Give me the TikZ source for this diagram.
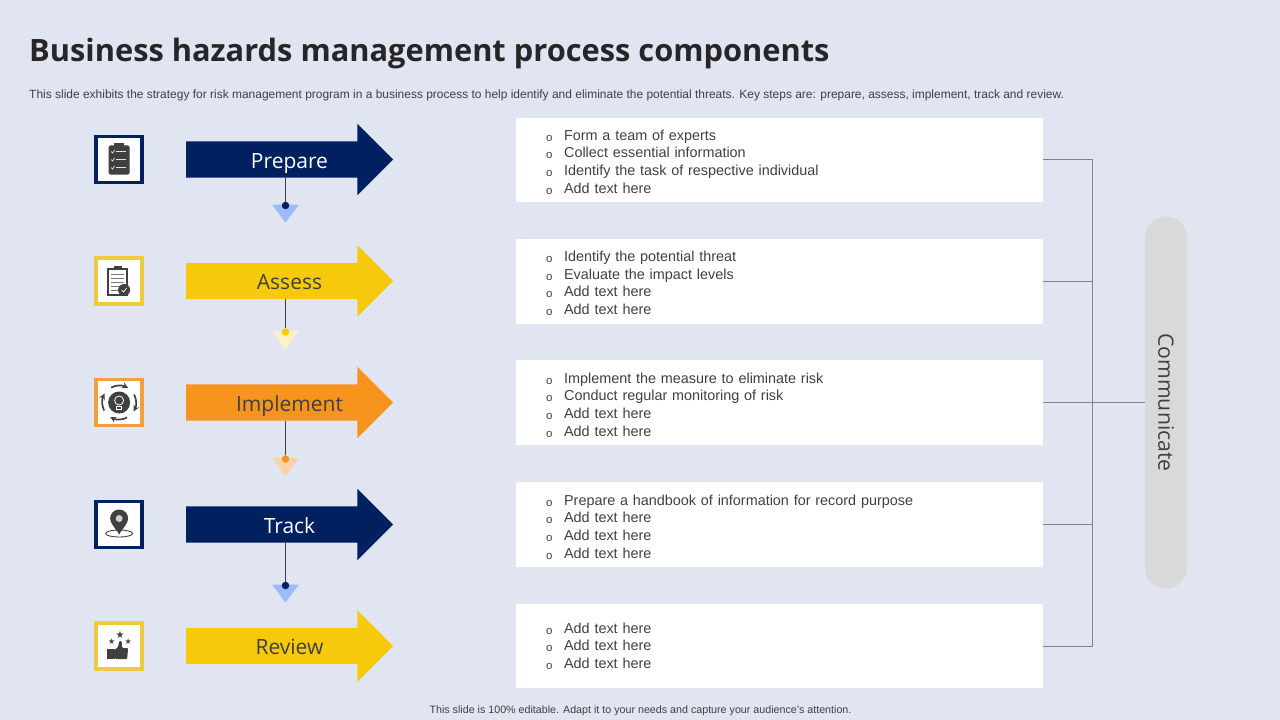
\documentclass[tikz,border=0pt]{standalone}
\usepackage{fontspec}
\setmainfont{Liberation Sans}
\newfontfamily\headfont{Open Sans}
\newfontfamily\symfont{DejaVu Sans}
\usepackage{xcolor}
\usetikzlibrary{shapes, arrows, positioning, calc}

\definecolor{slidebg}{HTML}{E1E5F2}
\definecolor{navy}{HTML}{002060}
\definecolor{sun}{HTML}{F6C90B}
\definecolor{sunframe}{HTML}{EFCB3F}
\definecolor{tangerine}{HTML}{F7941D}
\definecolor{orangeframe}{HTML}{F0A03C}
\definecolor{ink}{HTML}{404040}
\definecolor{busgray}{HTML}{7F8090}
\definecolor{skytip}{HTML}{9DBBF7}
\definecolor{suntip}{HTML}{FDF1C4}
\definecolor{orangetip}{HTML}{FBD3A6}

\newcommand{\itm}[1]{\hspace*{30pt}\makebox[18pt][l]{\raisebox{-1pt}{\fontsize{11.5}{11}\selectfont o}}#1}
\newcommand{\topitm}[1]{\rule{0pt}{15.5pt}\itm{#1}}
\newcommand{\stagetext}[1]{\hspace*{18pt}#1}
\newcommand{\droptip}[2]{\fill[#2] (#1) ++(-13.5,-1) -- ++(27,0) -- ++(-13.5,18) -- cycle;}

\begin{document}
\begin{tikzpicture}[
            x=1pt, y=-1pt,
            stage/.style={single arrow, draw=none, shape border rotate=0, minimum height=207pt,
                single arrow head extend=17.5pt, inner xsep=0pt, inner ysep=0pt,
                text height=26.5pt, text depth=9.5pt, text=ink, font=\headfont\fontsize{21}{21}\selectfont},
            frame/.style={rectangle, draw=#1, line width=3.5pt, fill=white, minimum size=46pt, inner sep=0pt},
            listbox/.style={rectangle, fill=white, text width=527pt, inner sep=0pt, minimum height=85pt,
                align=left, text=ink, font=\fontsize{14.4}{17.6}\selectfont},
            stem/.style={ink, line width=0.8pt},
            bus/.style={busgray, line width=0.8pt},
            dot/.style={circle, fill=#1, inner sep=0pt, minimum size=7.5pt},
            star/.style={text=ink, inner sep=0pt, font=\symfont\fontsize{#1}{#1}\selectfont},
            glyph/.style={fill=ink, draw=none},
            ring/.style={ink, line width=1.7pt, -stealth}
        ]
        \fill[slidebg] (0,0) rectangle (1280,720);
        \useasboundingbox (0,0) rectangle (1280,720);

        % Heading
        \node[anchor=west, inner sep=0pt, text=black!85, font=\headfont\bfseries\fontsize{30.8}{31}\selectfont] (title) at (29,53) {Business hazards management process components};
        \node[anchor=west, inner sep=0pt, text=ink, font=\fontsize{11.97}{12}\selectfont] (subtitle) at (29,95) {This slide exhibits the strategy for risk management program in a business process to help identify and eliminate the potential threats. Key steps are: prepare, assess, implement, track and review.};

        % Stages
        \node[stage, fill=navy, text=white] (prepare) at (280.5,159.5) {\stagetext{Prepare}};
        \node[stage, fill=sun] (assess) at (280.5,281) {\stagetext{Assess}};
        \node[stage, fill=tangerine] (implement) at (280.5,402.5) {\stagetext{Implement}};
        \node[stage, fill=navy, text=white] (track) at (280.5,524.5) {\stagetext{Track}};
        \node[stage, fill=sun] (review) at (280.5,646) {\stagetext{Review}};

        % Icon frames
        \node[frame=navy, left=42pt of prepare] (frameprepare) {};
        \node[frame=sunframe, left=42pt of assess] (frameassess) {};
        \node[frame=orangeframe, left=42pt of implement] (frameimplement) {};
        \node[frame=navy, left=42pt of track] (frametrack) {};
        \node[frame=sunframe, left=42pt of review] (framereview) {};

        % Icons
        \fill[glyph, rounded corners=1.5pt] ($(frameprepare)+(-10.5,-14)$) rectangle ($(frameprepare)+(10.5,15)$);
        \fill[glyph] ($(frameprepare)+(-5,-16)$) rectangle ($(frameprepare)+(5,-12)$);
        \draw[white!85!ink, line width=0.8pt] ($(frameprepare)+(-3,-8)$) -- ++(10,0) ($(frameprepare)+(-3,0)$) -- ++(10,0) ($(frameprepare)+(-3,8)$) -- ++(10,0);
        \draw[white!85!ink, line width=0.7pt] ($(frameprepare)+(-8,-8)$) -- ++(1.5,1.5) -- ++(2,-3) ($(frameprepare)+(-8,0)$) -- ++(1.5,1.5) -- ++(2,-3) ($(frameprepare)+(-8,8)$) -- ++(1.5,1.5) -- ++(2,-3);

        \draw[ink, line width=1.5pt, fill=white] ($(frameassess)+(-11,-12)$) rectangle ($(frameassess)+(8,14)$);
        \fill[glyph] ($(frameassess)+(-5,-15)$) rectangle ($(frameassess)+(3,-11)$);
        \draw[ink!70, line width=1pt] ($(frameassess)+(-8,-7)$) -- ++(13,0) ($(frameassess)+(-8,-3)$) -- ++(13,0) ($(frameassess)+(-8,1)$) -- ++(13,0) ($(frameassess)+(-8,5)$) -- ++(10,0) ($(frameassess)+(-8,9)$) -- ++(8,0);
        \fill[glyph] ($(frameassess)+(5,9)$) circle (6pt);
        \draw[white, line width=0.7pt] ($(frameassess)+(2.5,9)$) -- ++(2,2) -- ++(3,-4);

        \fill[glyph] (frameimplement) circle (11pt);
        \draw[white, line width=0.8pt] ($(frameimplement)+(0,-2)$) circle (4.5pt);
        \draw[white, line width=0.8pt] ($(frameimplement)+(-2.5,3.5)$) rectangle ($(frameimplement)+(2.5,7)$);
        \draw[ring] ($(frameimplement)+(-8,-15)$) .. controls ($(frameimplement)+(-3,-17.5)$) and ($(frameimplement)+(3,-17.5)$) .. ($(frameimplement)+(9,-14.5)$);
        \draw[ring] ($(frameimplement)+(15,-8)$) .. controls ($(frameimplement)+(17.5,-3)$) and ($(frameimplement)+(17.5,3)$) .. ($(frameimplement)+(14.5,9)$);
        \draw[ring] ($(frameimplement)+(8,15)$) .. controls ($(frameimplement)+(3,17.5)$) and ($(frameimplement)+(-3,17.5)$) .. ($(frameimplement)+(-9,14.5)$);
        \draw[ring] ($(frameimplement)+(-15,8)$) .. controls ($(frameimplement)+(-17.5,3)$) and ($(frameimplement)+(-17.5,-3)$) .. ($(frameimplement)+(-14.5,-9)$);

        \draw[ink, line width=0.9pt] ($(frametrack)+(0,9)$) ellipse (13.5pt and 3.5pt);
        \fill[glyph] ($(frametrack)+(0,10)$) .. controls ($(frametrack)+(-4,3)$) and ($(frametrack)+(-9,-1)$) .. ($(frametrack)+(-9,-6)$) arc (180:0:9pt) .. controls ($(frametrack)+(9,-1)$) and ($(frametrack)+(4,3)$) .. ($(frametrack)+(0,10)$);
        \fill[white!75!ink] ($(frametrack)+(0,-6)$) circle (3.5pt);

        \fill[glyph] ($(framereview)+(-12,3)$) rectangle ($(framereview)+(-4.5,13)$);
        \fill[glyph, rounded corners=1pt] ($(framereview)+(-4,3)$) -- ($(framereview)+(-1,1)$) -- ($(framereview)+(0,-5)$) -- ($(framereview)+(2.5,-5)$) -- ($(framereview)+(3,2)$) -- ($(framereview)+(9,2)$) -- ($(framereview)+(8,13)$) -- ($(framereview)+(-4,13)$) -- cycle;
        \node[star=10] (starmid) at ($(framereview)+(1,-11)$) {★};
        \node[star=8] (starleft) at ($(framereview)+(-7.5,-4)$) {★};
        \node[star=8] (starright) at ($(framereview)+(9,-4)$) {★};

        % Drop markers between the stages
        \coordinate (tipprepare) at (285.5,205.5);
        \coordinate (tipassess) at (285.5,332);
        \coordinate (tipimplement) at (285.5,459);
        \coordinate (tiptrack) at (285.5,585.5);
        \droptip{tipprepare}{skytip}
        \droptip{tipassess}{suntip}
        \droptip{tipimplement}{orangetip}
        \droptip{tiptrack}{skytip}
        \node[dot=navy] (dotprepare) at (tipprepare) {};
        \node[dot=sun] (dotassess) at (tipassess) {};
        \node[dot=tangerine] (dotimplement) at (tipimplement) {};
        \node[dot=navy] (dottrack) at (tiptrack) {};
        \draw[stem] (prepare.south -| dotprepare) -- (dotprepare);
        \draw[stem] (assess.south -| dotassess) -- (dotassess);
        \draw[stem] (implement.south -| dotimplement) -- (dotimplement);
        \draw[stem] (track.south -| dottrack) -- (dottrack);

        % Lists
        \node[listbox, right=122.5pt of prepare, minimum height=84pt] (boxprepare) {\topitm{Form a team of experts}\\\itm{Collect essential information}\\\itm{Identify the task of respective individual}\\\itm{Add text here}};
        \node[listbox, right=122.5pt of assess] (boxassess) {\topitm{Identify the potential threat}\\\itm{Evaluate the impact levels}\\\itm{Add text here}\\\itm{Add text here}};
        \node[listbox, right=122.5pt of implement] (boximplement) {\topitm{Implement the measure to eliminate risk}\\\itm{Conduct regular monitoring of risk}\\\itm{Add text here}\\\itm{Add text here}};
        \node[listbox, right=122.5pt of track] (boxtrack) {\topitm{Prepare a handbook of information for record purpose}\\\itm{Add text here}\\\itm{Add text here}\\\itm{Add text here}};
        \node[listbox, right=122.5pt of review, minimum height=84pt] (boxreview) {\itm{Add text here}\\\itm{Add text here}\\\itm{Add text here}};

        % Communicate bar
        \node[rounded rectangle, fill=black!15, rotate=-90, minimum width=372pt, minimum height=42pt, inner sep=0pt, text=ink, font=\headfont\fontsize{21.2}{21}\selectfont] (communicate) at (1166,402.5) {Communicate};

        \coordinate (busjoint) at (1092.5,402.5);
        \draw[bus] (boxprepare.east) -| (busjoint);
        \draw[bus] (boxreview.east) -| (busjoint);
        \draw[bus] (boxassess.east) -- (boxassess.east -| busjoint);
        \draw[bus] (boxtrack.east) -- (boxtrack.east -| busjoint);
        \draw[bus] (boximplement.east) -- (communicate.south);

        % Footer
        \node[inner sep=0pt, text=ink, font=\fontsize{10.7}{10}\selectfont] (footer) at (640.5,711) {This slide is 100\% editable.  Adapt it to your needs and capture your audience's attention.};
    \end{tikzpicture}
\end{document}
